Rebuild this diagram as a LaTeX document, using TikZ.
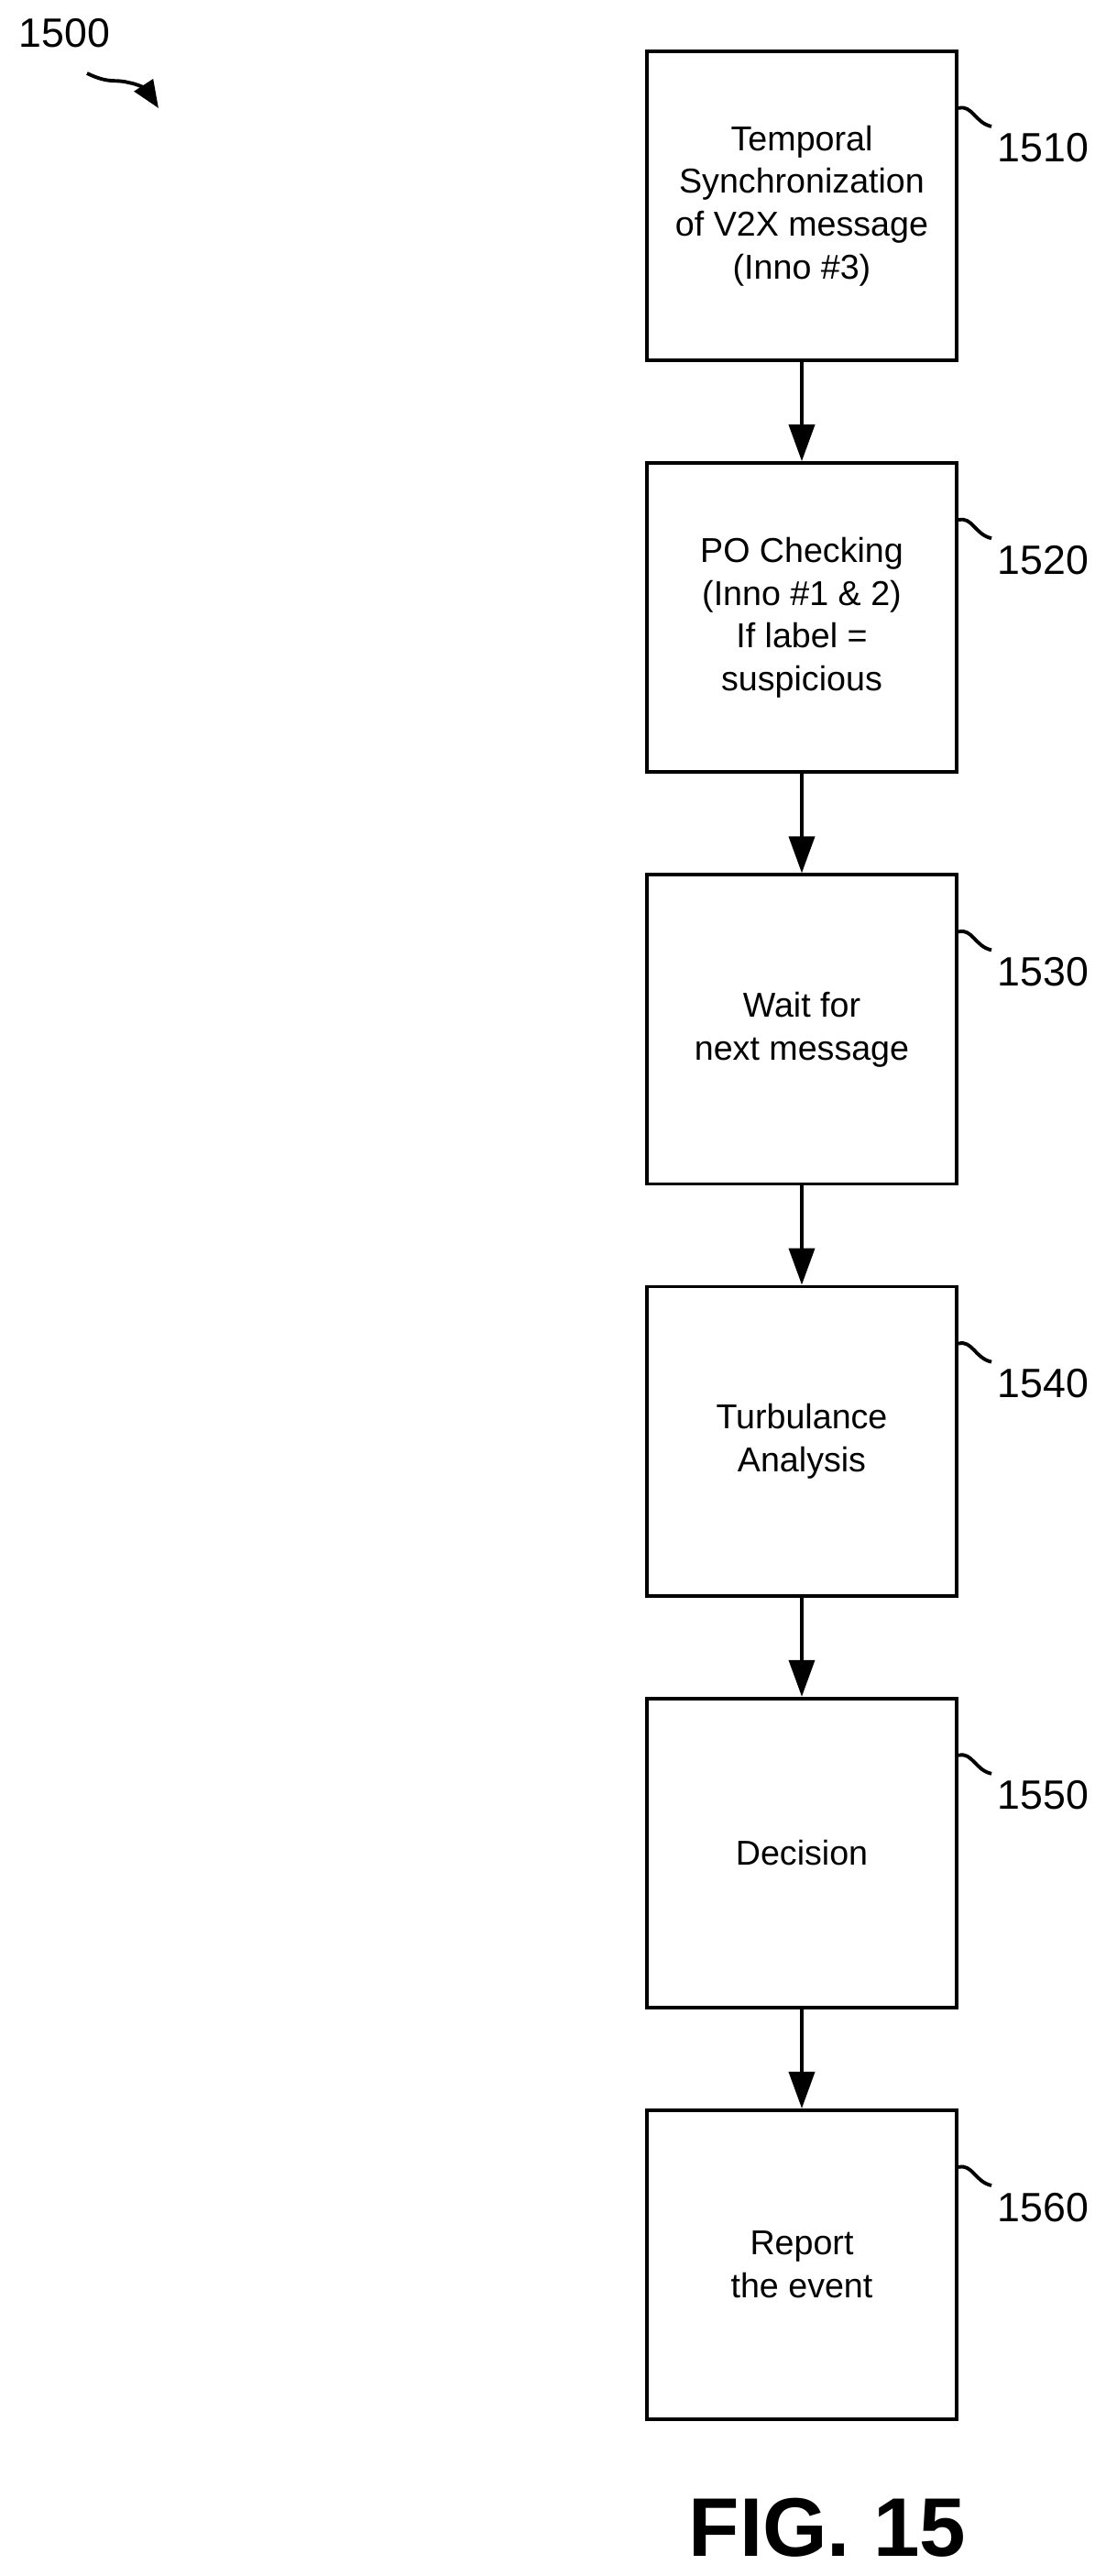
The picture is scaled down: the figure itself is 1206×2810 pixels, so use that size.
\documentclass[tikz,border=0pt]{standalone}
\usepackage{fontspec}
\setmainfont{Liberation Sans}
\usetikzlibrary{arrows.meta}

\begin{document}
\begin{tikzpicture}[x=0.01cm,y=-0.01cm]
   \tikzstyle{stage}=[draw, line width=1.1pt, minimum width=3.38cm, minimum height=3.37cm,
       align=center, inner sep=0pt, font=\fontsize{10.7}{13.3}\selectfont]
   \tikzstyle{ref}=[anchor=base west, inner sep=0pt, font=\fontsize{12.7}{15}\selectfont]
   \tikzstyle{flow}=[line width=1.1pt, -{Triangle[length=0.4cm,width=0.28cm]}]
   \tikzstyle{squig}=[line width=1.1pt]
   \useasboundingbox (0,0) rectangle (1206,2810);

\node[ref] (n1500) at (20,52) {1500};
\coordinate (a1500) at (95,80);
\coordinate (b1500) at (173,118);
\draw[line width=1.1pt, -{Triangle[length=0.3cm,width=0.24cm]}] (a1500) .. controls (120,92) and (125,86) .. (140,90) .. controls (152,92) and (160,98) .. (b1500);

\foreach \i/\txt/\num in {0/{Temporal\\Synchronization\\of V2X message\\(Inno \#3)}/1510,
                          1/{PO Checking\\(Inno \#1 \& 2)\\If label =\\suspicious}/1520,
                          2/{Wait for\\next message}/1530,
                          3/{Turbulance\\Analysis}/1540,
                          4/{Decision}/1550,
                          5/{Report\\the event}/1560}{
   \node[stage] (s\num) at (875,{224.5+449.2*\i}) {\txt};
   \node[ref] (l\num) at (1088,{177+449.2*\i}) {\num};
   \coordinate (c\num) at (1082,{138+449.2*\i});
   \draw[squig] ([yshift=-0.64cm]s\num.north east) .. controls +(15,-4) and +(-18,-4) .. (c\num);
}

\draw[flow] (s1510) -- (s1520);
\draw[flow] (s1520) -- (s1530);
\draw[flow] (s1530) -- (s1540);
\draw[flow] (s1540) -- (s1550);
\draw[flow] (s1550) -- (s1560);

\node[anchor=base, inner sep=0pt, font=\fontsize{25.8}{30}\selectfont\bfseries] (fig) at (903,2788) {FIG. 15};
\end{tikzpicture}
\end{document}
